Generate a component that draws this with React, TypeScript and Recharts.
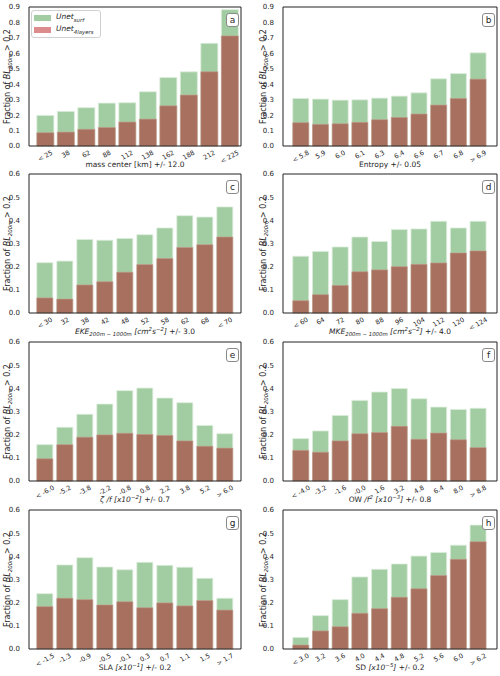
import React from 'react'
import { Bar, BarChart, Legend, XAxis, YAxis } from 'recharts'

// bin labels and fractions for each predictor
const massLabels = ['< 25', '38', '62', '88', '112', '138', '162', '188', '212', '< 225']
const massSurf = [0.198, 0.224, 0.248, 0.278, 0.28, 0.351, 0.443, 0.48, 0.665, 0.883]
const mass4l = [0.086, 0.09, 0.108, 0.12, 0.155, 0.174, 0.26, 0.33, 0.48, 0.713]

const entLabels = ['< 5.8', '5.9', '6.0', '6.1', '6.3', '6.4', '6.6', '6.7', '6.8', '> 6.9']
const entSurf = [0.308, 0.304, 0.297, 0.299, 0.31, 0.323, 0.344, 0.435, 0.469, 0.603]
const ent4l = [0.151, 0.14, 0.144, 0.153, 0.17, 0.185, 0.207, 0.265, 0.308, 0.433]

const ekeLabels = ['< 30', '32', '38', '42', '48', '52', '58', '62', '68', '< 70']
const ekeSurf = [0.217, 0.224, 0.317, 0.314, 0.322, 0.338, 0.367, 0.42, 0.414, 0.458]
const eke4l = [0.065, 0.06, 0.121, 0.135, 0.176, 0.209, 0.235, 0.283, 0.295, 0.328]

const mkeLabels = ['< 60', '64', '72', '80', '88', '96', '104', '112', '120', '< 124']
const mkeSurf = [0.245, 0.266, 0.285, 0.328, 0.309, 0.36, 0.363, 0.396, 0.367, 0.396]
const mke4l = [0.053, 0.079, 0.119, 0.178, 0.186, 0.2, 0.21, 0.216, 0.259, 0.268]

const vortLabels = ['< -6.0', '-5.2', '-3.8', '-2.2', '-0.8', '0.8', '2.2', '3.8', '5.2', '> 6.0']
const vortSurf = [0.157, 0.232, 0.288, 0.332, 0.39, 0.401, 0.358, 0.338, 0.24, 0.204]
const vort4l = [0.096, 0.157, 0.189, 0.199, 0.206, 0.201, 0.197, 0.173, 0.15, 0.142]

const owLabels = ['< -4.0', '-3.2', '-1.6', '-0.0', '1.6', '3.2', '4.8', '6.4', '8.0', '> 8.8']
const owSurf = [0.183, 0.216, 0.283, 0.348, 0.384, 0.399, 0.355, 0.319, 0.309, 0.314]
const ow4l = [0.132, 0.124, 0.173, 0.204, 0.209, 0.236, 0.18, 0.207, 0.178, 0.144]

const slaLabels = ['< -1.5', '-1.3', '-0.9', '-0.5', '-0.1', '0.3', '0.7', '1.1', '1.5', '> 1.7']
const slaSurf = [0.239, 0.363, 0.394, 0.354, 0.342, 0.374, 0.361, 0.353, 0.305, 0.219]
const sla4l = [0.183, 0.219, 0.213, 0.19, 0.204, 0.178, 0.199, 0.186, 0.209, 0.168]

const sdLabels = ['< 3.0', '3.2', '3.6', '4.0', '4.4', '4.8', '5.2', '5.6', '6.0', '> 6.2']
const sdSurf = [0.05, 0.144, 0.213, 0.311, 0.344, 0.367, 0.401, 0.417, 0.448, 0.535]
const sd4l = [0.017, 0.078, 0.096, 0.154, 0.174, 0.223, 0.26, 0.317, 0.387, 0.463]

const ticks09 = [0, 0.1, 0.2, 0.3, 0.4, 0.5, 0.6, 0.7, 0.8, 0.9]
const ticks06 = [0, 0.1, 0.2, 0.3, 0.4, 0.5, 0.6]

const GREEN = '#a2cda2'
const BROWN = '#a8705f'
const PINK = '#dc8c8c'
const INK = '#262626'
const FONT = '"DejaVu Sans", sans-serif'

// layout
const CW = 250
const CH = 180
const TOP = 7
const PH = 139
const XAH = 22
const rowTops = [0, 167, 335, 503]

const charW: Record<string, number> = { '.': 0.318, ' ': 0.318, '-': 0.361, '<': 0.838, '>': 0.838 }
const textWidth = (s: string, fs: number) =>
  s.split('').reduce((w, c) => w + (charW[c] ?? 0.636), 0) * fs

function RotTick({ x, y, payload }: any) {
  const s = String(payload.value)
  const fs = 6.5
  const a = (30 * Math.PI) / 180
  const rh = textWidth(s, fs) * Math.sin(a) + fs * 0.75 * Math.cos(a)
  const cy = y + 4 + rh / 2
  return (
    <text
      x={x}
      y={cy}
      textAnchor="middle"
      dominantBaseline="central"
      transform={`rotate(-30 ${x} ${cy})`}
      fontSize={fs}
      fill={INK}
      fontFamily={FONT}
    >
      {s}
    </text>
  )
}

// rich text pieces: [text, italic, shift]  shift: 0 normal, 1 superscript, -1 subscript
type Seg = [string, boolean?, number?]

function Rich({ segs }: { segs: Seg[] }) {
  let prev = 0
  return (
    <>
      {segs.map(([t, italic, shift = 0], i) => {
        const off = shift === 1 ? -3 : shift === -1 ? 2 : 0
        const dy = off - prev
        prev = off
        return (
          <tspan
            key={i}
            dy={dy || undefined}
            fontStyle={italic ? 'italic' : 'normal'}
            fontSize={shift ? 5.4 : undefined}
          >
            {t}
          </tspan>
        )
      })}
    </>
  )
}

const titles: Record<string, Seg[]> = {
  mass: [['mass center [km] +/- 12.0']],
  ent: [['Entropy +/- 0.05']],
  eke: [['EKE', true], ['200m \u2212 1000m', true, -1], [' '], ['[cm', true], ['2', true, 1], ['s', true], ['\u22122', true, 1], [']', true], [' +/- 3.0']],
  mke: [['MKE', true], ['200m \u2212 1000m', true, -1], [' '], ['[cm', true], ['2', true, 1], ['s', true], ['\u22122', true, 1], [']', true], [' +/- 4.0']],
  vort: [['\u03b6 /f [x10', true], ['\u22122', true, 1], [']', true], [' +/- 0.7']],
  ow: [['OW '], ['/f', true], ['2', true, 1], [' '], ['[x10', true], ['\u22123', true, 1], [']', true], [' +/- 0.8']],
  sla: [['SLA '], ['[x10', true], ['\u22121', true, 1], [']', true], [' +/- 0.2']],
  sd: [['SD '], ['[x10', true], ['\u22125', true, 1], [']', true], [' +/- 0.2']],
}
const yTitle: Seg[] = [['Fraction of '], ['BL', true], ['200m', true, -1], [' > 0.2']]

function LegendBox() {
  const item = (color: string, name: string) => (
    <div style={{ display: 'flex', alignItems: 'center', height: 12 }}>
      <span style={{ display: 'inline-block', width: 17, height: 6, background: color, marginRight: 5 }} />
      <i style={{ fontSize: 7.5 }}>
        Unet<sub style={{ fontSize: 5.4 }}>{name}</sub>
      </i>
    </div>
  )
  return (
    <div
      style={{
        border: '1px solid #d0d0d0',
        borderRadius: 3,
        background: 'rgba(255,255,255,0.85)',
        padding: '1px 6px 1px 2px',
        fontFamily: FONT,
        color: INK,
        lineHeight: 1,
      }}
    >
      {item(GREEN, 'surf')}
      {item(PINK, '4layers')}
    </div>
  )
}

type PanelProps = {
  letter: string
  labels: string[]
  surf: number[]
  four: number[]
  max: number
  ticks: number[]
  title: Seg[]
  col: number
  row: number
  legend?: boolean
  pad?: { left: number; right: number }
}

function Panel({ letter, labels, surf, four, max, ticks, title, col, row, legend, pad }: PanelProps) {
  const rows = labels.map((label, i) => ({ label, surf: surf[i], four: four[i] }))
  const yw = col === 0 ? 29 : 33
  const mr = col === 0 ? 9 : 3
  const xpad = pad ?? (col === 0 ? { left: 6, right: 6 } : { left: 8, right: 9 })
  const plotW = CW - yw - mr
  const plotBottom = TOP + PH
  const yx = col === 0 ? yw - 19 : yw - 17
  return (
    <div style={{ position: 'absolute', left: col * CW, top: rowTops[row], width: CW, height: CH }}>
      <BarChart
        width={CW}
        height={CH}
        data={rows}
        margin={{ top: TOP - 1, right: mr - 1, bottom: CH - TOP - PH - XAH, left: 0 }}
        barCategoryGap="9%"
        style={{ overflow: 'visible' }}
      >
        <XAxis
          xAxisId="b"
          dataKey="label"
          height={XAH}
          interval={0}
          tickLine={false}
          tickSize={0}
          tickMargin={0}
          tick={<RotTick />}
          axisLine={{ stroke: '#222' }}
          padding={xpad}
        />
        <XAxis
          xAxisId="t"
          dataKey="label"
          orientation="top"
          height={1}
          tick={false}
          tickLine={false}
          axisLine={{ stroke: '#222' }}
          padding={xpad}
        />
        <YAxis
          yAxisId="l"
          domain={[0, max]}
          ticks={ticks}
          interval={0}
          width={yw}
          tickLine={false}
          tickMargin={3}
          tick={{ fontSize: 7, fill: INK, fontFamily: FONT }}
          tickFormatter={(v: number) => v.toFixed(1)}
          axisLine={{ stroke: '#222' }}
        />
        <YAxis
          yAxisId="r"
          orientation="right"
          domain={[0, max]}
          width={1}
          tick={false}
          tickLine={false}
          axisLine={{ stroke: '#222' }}
        />
        <Bar
          xAxisId="b"
          yAxisId="l"
          dataKey="surf"
          fill={GREEN}
          stroke="#dcecdc"
          strokeWidth={0.8}
          isAnimationActive={false}
        />
        <Bar
          xAxisId="t"
          yAxisId="r"
          dataKey="four"
          fill={BROWN}
          stroke="#c49a8c"
          strokeWidth={0.6}
          isAnimationActive={false}
        />
        {legend && (
          <Legend
            layout="vertical"
            align="center"
            verticalAlign="middle"
            content={() => <LegendBox />}
            wrapperStyle={{ left: yw + 2, top: TOP + 3, width: 'auto' }}
          />
        )}
      </BarChart>
      <svg
        width={CW}
        height={CH}
        style={{ position: 'absolute', left: 0, top: 0, pointerEvents: 'none', overflow: 'visible' }}
        fontFamily={FONT}
        fill={INK}
      >
        <text x={yw + plotW / 2} y={plotBottom + 21} textAnchor="middle" fontSize={7.5}>
          <Rich segs={title} />
        </text>
        <text
          x={yx}
          y={TOP + PH / 2}
          textAnchor="middle"
          fontSize={8}
          transform={`rotate(-90 ${yx} ${TOP + PH / 2})`}
        >
          <Rich segs={yTitle} />
        </text>
      </svg>
      <div
        style={{
          position: 'absolute',
          left: CW - mr - 2 - 13,
          top: TOP + 6,
          width: 11,
          height: 12,
          border: '1px solid #8a8a8a',
          borderRadius: 3,
          background: '#fff',
          fontFamily: FONT,
          fontSize: 9,
          lineHeight: '12px',
          textAlign: 'center',
          color: INK,
        }}
      >
        {letter}
      </div>
    </div>
  )
}

export default function App() {
  return (
    <div style={{ position: 'absolute', left: 0, top: 0, width: 500, height: 676, background: '#fff', fontFamily: FONT }}>
      <Panel letter="a" labels={massLabels} surf={massSurf} four={mass4l} max={0.9} ticks={ticks09} title={titles.mass} col={0} row={0} legend pad={{ left: 6, right: 1 }} />
      <Panel letter="b" labels={entLabels} surf={entSurf} four={ent4l} max={0.9} ticks={ticks09} title={titles.ent} col={1} row={0} />
      <Panel letter="c" labels={ekeLabels} surf={ekeSurf} four={eke4l} max={0.6} ticks={ticks06} title={titles.eke} col={0} row={1} />
      <Panel letter="d" labels={mkeLabels} surf={mkeSurf} four={mke4l} max={0.6} ticks={ticks06} title={titles.mke} col={1} row={1} />
      <Panel letter="e" labels={vortLabels} surf={vortSurf} four={vort4l} max={0.6} ticks={ticks06} title={titles.vort} col={0} row={2} />
      <Panel letter="f" labels={owLabels} surf={owSurf} four={ow4l} max={0.6} ticks={ticks06} title={titles.ow} col={1} row={2} />
      <Panel letter="g" labels={slaLabels} surf={slaSurf} four={sla4l} max={0.6} ticks={ticks06} title={titles.sla} col={0} row={3} />
      <Panel letter="h" labels={sdLabels} surf={sdSurf} four={sd4l} max={0.6} ticks={ticks06} title={titles.sd} col={1} row={3} />
    </div>
  )
}
